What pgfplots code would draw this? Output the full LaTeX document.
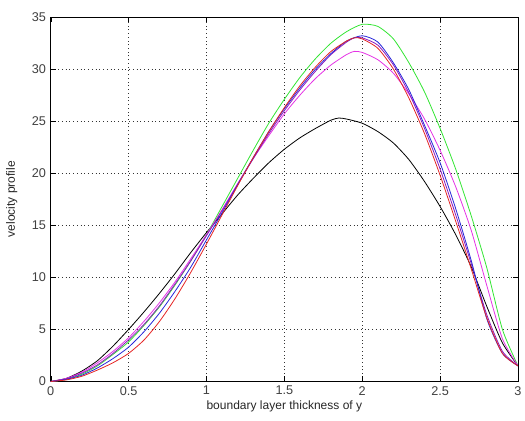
\documentclass[border=0pt]{standalone}
\usepackage{pgfplots}
\pgfplotsset{compat=1.18}
\usepackage{fontspec}
\setmainfont{Liberation Sans}
\definecolor{mpurple}{rgb}{0.55,0.1,0.75}
\begin{document}
\begin{tikzpicture}
\begin{axis}[
  scale only axis,
  width=350pt, height=273pt,
  xmin=0, xmax=3, ymin=0, ymax=35,
  xtick={0,0.5,...,3}, ytick={0,5,...,35},
  xticklabels={0,0.5,1,1.5,2,2.5,3},
  grid=major,
  grid style={black!80, dash pattern=on 0.6pt off 2.2pt, line width=0.5pt},
  tick align=inside,
  major tick length=4pt,
  tick style={black},
  axis line style={black, line width=0.6pt},
  /pgf/number format/assume math mode=true,
  tick label style={font=\fontsize{9.5}{10}\selectfont, text=black!75},
  label style={font=\fontsize{9}{10}\selectfont, text=black!85},
  xlabel={boundary layer thickness of y},
  ylabel={velocity profile},
  xlabel style={yshift=3pt},
  ylabel style={yshift=4pt},
  every axis plot/.append style={line width=0.6pt, smooth, no markers, tension=0.4},
]
% black
\addplot[black] coordinates {(0,0)(0.1,0.3)(0.2,1.0)(0.3,2.0)(0.4,3.4)(0.5,5.0)(0.6,6.7)(0.7,8.5)(0.8,10.4)(0.9,12.4)(1.0,14.3)(1.1,16.1)(1.2,17.9)(1.3,19.5)(1.4,21.0)(1.5,22.3)(1.6,23.4)(1.7,24.3)(1.8,25.1)(1.85,25.3)(1.9,25.2)(2.0,24.8)(2.1,24.0)(2.2,22.9)(2.3,21.3)(2.4,19.2)(2.5,16.8)(2.6,14.1)(2.7,11.0)(2.8,7.2)(2.9,3.7)(3.0,1.5)};
% green
\addplot[color={rgb,1:red,0.2;green,0.9;blue,0.2}] coordinates {(0,0)(0.1,0.2)(0.2,0.7)(0.3,1.5)(0.4,2.6)(0.5,3.8)(0.6,5.4)(0.7,7.2)(0.8,9.3)(0.9,11.6)(1.0,14.1)(1.1,16.8)(1.2,19.5)(1.3,22.2)(1.4,24.8)(1.5,27.1)(1.6,29.2)(1.7,31.0)(1.8,32.5)(1.9,33.6)(2.0,34.3)(2.1,34.1)(2.2,32.9)(2.3,30.6)(2.4,27.8)(2.5,24.3)(2.6,20.4)(2.7,15.9)(2.8,10.9)(2.9,5.0)(3.0,1.5)};
% magenta
\addplot[color={rgb,1:red,0.9;green,0.2;blue,0.9}] coordinates {(0,0)(0.1,0.3)(0.2,0.9)(0.3,1.8)(0.4,2.9)(0.5,4.2)(0.6,5.8)(0.7,7.6)(0.8,9.6)(0.9,11.8)(1.0,14.1)(1.1,16.5)(1.2,19.0)(1.3,21.4)(1.4,23.6)(1.5,25.7)(1.6,27.5)(1.7,29.1)(1.8,30.4)(1.9,31.4)(1.95,31.7)(2.0,31.6)(2.1,30.9)(2.2,29.6)(2.3,27.6)(2.4,25.2)(2.5,22.2)(2.6,18.7)(2.7,14.5)(2.8,9.2)(2.9,4.1)(3.0,1.5)};
% purple
\addplot[mpurple] coordinates {(0,0)(0.1,0.25)(0.2,0.8)(0.3,1.6)(0.4,2.7)(0.5,4.0)(0.6,5.5)(0.7,7.3)(0.8,9.4)(0.9,11.6)(1.0,14.0)(1.1,16.4)(1.2,18.9)(1.3,21.4)(1.4,23.8)(1.5,26.0)(1.6,28.0)(1.7,29.8)(1.8,31.4)(1.9,32.6)(1.95,33.0)(2.0,33.0)(2.1,32.3)(2.2,30.4)(2.3,27.7)(2.4,24.3)(2.5,20.4)(2.6,16.0)(2.7,11.3)(2.8,6.4)(2.9,2.9)(3.0,1.5)};
% blue
\addplot[color={rgb,1:red,0.15;green,0.15;blue,0.85}] coordinates {(0,0)(0.1,0.2)(0.2,0.6)(0.3,1.3)(0.4,2.2)(0.5,3.3)(0.6,4.8)(0.7,6.6)(0.8,8.7)(0.9,11.0)(1.0,13.6)(1.1,16.2)(1.2,18.9)(1.3,21.5)(1.4,24.0)(1.5,26.2)(1.6,28.2)(1.7,30.0)(1.8,31.5)(1.9,32.7)(2.0,33.2)(2.1,32.6)(2.2,30.6)(2.3,28.0)(2.4,24.6)(2.5,21.0)(2.6,16.6)(2.7,11.6)(2.8,6.0)(2.9,2.7)(3.0,1.5)};
% red
\addplot[color={rgb,1:red,0.9;green,0.15;blue,0.15}] coordinates {(0,0)(0.1,0.15)(0.2,0.5)(0.3,1.1)(0.4,1.8)(0.5,2.7)(0.6,4.0)(0.7,5.8)(0.8,8.0)(0.9,10.5)(1.0,13.2)(1.1,16.0)(1.2,18.8)(1.3,21.5)(1.4,24.0)(1.5,26.3)(1.6,28.4)(1.7,30.2)(1.8,31.7)(1.9,32.7)(1.95,33.0)(2.0,32.9)(2.1,32.0)(2.2,30.0)(2.3,27.2)(2.4,23.8)(2.5,19.8)(2.6,15.4)(2.7,10.8)(2.8,6.1)(2.9,2.7)(3.0,1.5)};
\end{axis}
\pgfresetboundingbox
\useasboundingbox (-38pt,-29.25pt) rectangle (355.25pt,285.75pt);
\end{tikzpicture}
\end{document}
